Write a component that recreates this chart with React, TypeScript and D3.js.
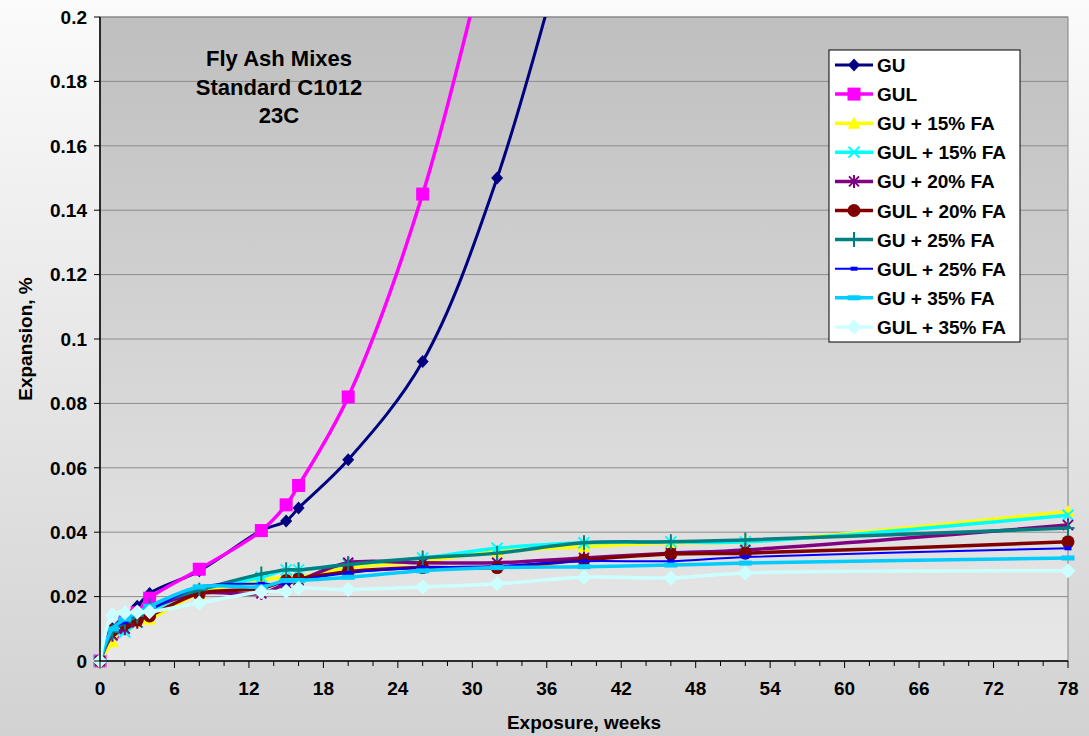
import React, { useEffect } from "react";
import * as d3 from "d3";

// exposure weeks where readings were taken
const weeks = [0, 1, 2, 3, 4, 8, 13, 15, 16, 20, 26, 32, 39, 46, 52, 78];

const seriesNames = [
  "GU", "GUL", "GU + 15% FA", "GUL + 15% FA", "GU + 20% FA",
  "GUL + 20% FA", "GU + 25% FA", "GUL + 25% FA", "GU + 35% FA", "GUL + 35% FA",
];

// expansion, %  (GU and GUL run off the top of the chart)
const gu = [0, 0.010, 0.014, 0.017, 0.021, 0.028, 0.0405, 0.0435, 0.0475, 0.0625, 0.093, 0.150, 0.245];
const gul = [0, 0.009, 0.012, 0.015, 0.0195, 0.0285, 0.0405, 0.0485, 0.0545, 0.082, 0.145, 0.235];
const gu15 = [0, 0.006, 0.011, 0.012, 0.013, 0.021, 0.025, 0.026, 0.026, 0.029, 0.031, 0.034, 0.0355, 0.0367, 0.037, 0.0464];
const gul15 = [0, 0.008, 0.009, 0.012, 0.015, 0.022, 0.026, 0.0283, 0.0283, 0.030, 0.032, 0.035, 0.0367, 0.037, 0.037, 0.0453];
const gu20 = [0, 0.008, 0.010, 0.012, 0.016, 0.021, 0.021, 0.024, 0.025, 0.0305, 0.0305, 0.0305, 0.032, 0.0335, 0.0345, 0.0422];
const gul20 = [0, 0.0095, 0.0115, 0.0127, 0.014, 0.021, 0.0225, 0.025, 0.0255, 0.0277, 0.029, 0.029, 0.0314, 0.0332, 0.0335, 0.037];
const gu25 = [0, 0.009, 0.012, 0.014, 0.017, 0.022, 0.027, 0.0283, 0.0283, 0.030, 0.032, 0.0335, 0.0367, 0.037, 0.0376, 0.0413];
const gul25 = [0, 0.010, 0.012, 0.015, 0.016, 0.023, 0.024, 0.024, 0.025, 0.0273, 0.029, 0.0295, 0.031, 0.031, 0.0323, 0.035];
const gu35 = [0, 0.010, 0.013, 0.015, 0.017, 0.023, 0.023, 0.025, 0.025, 0.026, 0.028, 0.029, 0.0293, 0.0298, 0.0304, 0.032];
const gul35 = [0, 0.0143, 0.015, 0.0152, 0.0153, 0.018, 0.0215, 0.0217, 0.0226, 0.0222, 0.023, 0.024, 0.026, 0.0258, 0.0273, 0.028];

const xTicks = [0, 6, 12, 18, 24, 30, 36, 42, 48, 54, 60, 66, 72, 78];
const yTicks = [0, 0.02, 0.04, 0.06, 0.08, 0.1, 0.12, 0.14, 0.16, 0.18, 0.2];
const titleLines = ["Fly Ash Mixes", "Standard C1012", "23C"];

const allValues = [gu, gul, gu15, gul15, gu20, gul20, gu25, gul25, gu35, gul35];
const colors = ["#000080", "#FF00FF", "#FFFF00", "#00FFFF", "#800080", "#800000", "#008080", "#0000FF", "#00CCFF", "#CCFFFF"];
const markers = ["diamond", "square", "triangle", "x", "star", "circle", "plus", "dash", "bar", "bigdiamond"];
const widths = [3, 3.5, 3.5, 3.5, 3.5, 3.5, 3.5, 2, 3.5, 3.5];

const W = 1089, H = 736;
const L = 100, R = 1068, T = 17, B = 661;
const FONT = "'Liberation Sans', Arial, sans-serif";

function Marker({ kind, x, y, color }: { kind: string; x: number; y: number; color: string }) {
  switch (kind) {
    case "diamond":
      return <path d={`M${x},${y - 6.5}L${x + 6},${y}L${x},${y + 6.5}L${x - 6},${y}Z`} fill={color} />;
    case "bigdiamond":
      return <path d={`M${x},${y - 7.5}L${x + 7.5},${y}L${x},${y + 7.5}L${x - 7.5},${y}Z`} fill={color} />;
    case "square":
      return <rect x={x - 6.5} y={y - 6.5} width={13} height={13} fill={color} />;
    case "triangle":
      return <path d={`M${x},${y - 6.5}L${x + 6.5},${y + 5.5}L${x - 6.5},${y + 5.5}Z`} fill={color} />;
    case "x":
      return <path d={`M${x - 5.5},${y - 5.5}L${x + 5.5},${y + 5.5}M${x - 5.5},${y + 5.5}L${x + 5.5},${y - 5.5}`} stroke={color} strokeWidth={2} />;
    case "star":
      return <path d={`M${x - 5},${y - 5}L${x + 5},${y + 5}M${x - 5},${y + 5}L${x + 5},${y - 5}M${x},${y - 6.5}L${x},${y + 6.5}`} stroke={color} strokeWidth={2} />;
    case "plus":
      return <path d={`M${x - 6.5},${y}L${x + 6.5},${y}M${x},${y - 7.5}L${x},${y + 7.5}`} stroke={color} strokeWidth={2} />;
    case "circle":
      return <circle cx={x} cy={y} r={6.5} fill={color} />;
    case "dash":
      return <rect x={x - 3.5} y={y - 2} width={7} height={4} fill={color} />;
    case "bar":
      return <rect x={x - 6.5} y={y - 2.5} width={13} height={5} fill={color} />;
    default:
      return null;
  }
}

export default function App() {
  useEffect(() => {
    document.body.style.margin = "0";
  }, []);

  const x = d3.scaleLinear().domain([0, 78]).range([L, R]);
  const y = d3.scaleLinear().domain([0, 0.2]).range([B, T]);
  const line = d3
    .line<[number, number]>()
    .x((d) => x(d[0]))
    .y((d) => y(d[1]))
    .curve(d3.curveCatmullRom.alpha(0.5));

  const minorTicks = d3.range(0, 79, 2);

  return (
    <div style={{ position: "absolute", left: 0, top: 0 }}>
      <svg width={W} height={H} style={{ display: "block" }} fontFamily={FONT}>
        <defs>
          <linearGradient id="outerBg" x1="0" y1="0" x2="0" y2="1">
            <stop offset="0" stopColor="#fbfbfb" />
            <stop offset="1" stopColor="#d2d2d2" />
          </linearGradient>
          <linearGradient id="plotBg" x1="0" y1="0" x2="0" y2="1">
            <stop offset="0" stopColor="#bfbfbf" />
            <stop offset="1" stopColor="#e8e8e8" />
          </linearGradient>
          <clipPath id="plotClip">
            <rect x={L - 10} y={T} width={R - L + 20} height={B - T + 10} />
          </clipPath>
        </defs>

        <rect x={0} y={0} width={W} height={H} fill="url(#outerBg)" />
        <rect x={L} y={T} width={R - L} height={B - T} fill="url(#plotBg)" stroke="#808080" strokeWidth={1} />

        {/* gridlines */}
        {yTicks.slice(1).map((t) => (
          <line key={t} x1={L} x2={R} y1={y(t)} y2={y(t)} stroke="#8c8c8c" strokeWidth={1} />
        ))}

        {/* series */}
        <g clipPath="url(#plotClip)">
          {allValues.map((vals, i) => {
            const pts = vals.map((v, j) => [weeks[j], v] as [number, number]);
            return (
              <g key={seriesNames[i]}>
                <path d={line(pts) || ""} fill="none" stroke={colors[i]} strokeWidth={widths[i]} />
                {pts.map((p, j) => (
                  <Marker key={j} kind={markers[i]} x={x(p[0])} y={y(p[1])} color={colors[i]} />
                ))}
              </g>
            );
          })}
        </g>

        {/* axes */}
        <line x1={L} x2={L} y1={T} y2={B} stroke="#000" strokeWidth={1.5} />
        <line x1={L} x2={R} y1={B} y2={B} stroke="#000" strokeWidth={1.5} />
        {yTicks.map((t) => (
          <g key={t}>
            <line x1={L - 6} x2={L} y1={y(t)} y2={y(t)} stroke="#000" />
            <text x={87} y={y(t)} dy="0.36em" textAnchor="end" fontSize={19} fontWeight="bold">
              {String(t)}
            </text>
          </g>
        ))}
        {minorTicks.map((t) => (
          <line key={t} x1={x(t)} x2={x(t)} y1={B} y2={B + (t % 6 === 0 ? 7 : 5)} stroke="#000" />
        ))}
        {xTicks.map((t) => (
          <text key={t} x={x(t)} y={695} textAnchor="middle" fontSize={19} fontWeight="bold">
            {t}
          </text>
        ))}

        <text x={(L + R) / 2} y={729} textAnchor="middle" fontSize={19} fontWeight="bold">
          Exposure, weeks
        </text>
        <text transform={`translate(32,${(T + B) / 2}) rotate(-90)`} textAnchor="middle" fontSize={19} fontWeight="bold">
          Expansion, %
        </text>

        {/* title */}
        {titleLines.map((s, i) => (
          <text key={s} x={279} y={66 + i * 28.7} textAnchor="middle" fontSize={22} fontWeight="bold">
            {s}
          </text>
        ))}

        {/* legend */}
        <rect x={829} y={50} width={191} height={292} fill="#fff" stroke="#000" strokeWidth={1} />
        {seriesNames.map((name, i) => {
          const ly = 65 + i * 29.1;
          return (
            <g key={name}>
              <line x1={835} x2={873} y1={ly} y2={ly} stroke={colors[i]} strokeWidth={widths[i]} />
              <Marker kind={markers[i]} x={854} y={ly} color={colors[i]} />
              <text x={877} y={ly + 7} fontSize={19} fontWeight="bold">
                {name}
              </text>
            </g>
          );
        })}
      </svg>
    </div>
  );
}
